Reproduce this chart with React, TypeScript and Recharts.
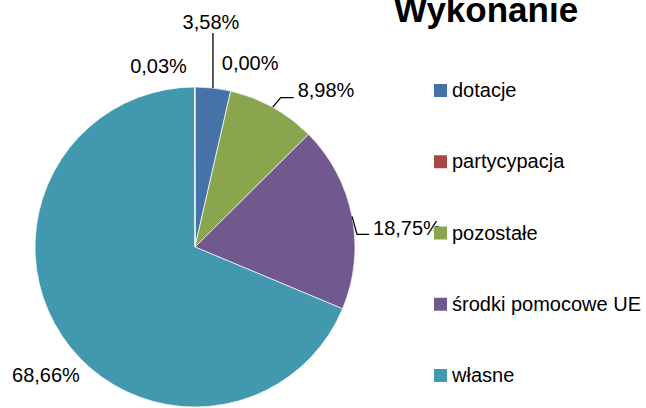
import React from 'react';
import { PieChart, Pie, Cell, Legend } from 'recharts';

const categories = ['dotacje', 'partycypacja', 'pozostałe', 'środki pomocowe UE', 'własne', 'inne'];
const shares = [3.58, 0.0, 8.98, 18.75, 68.66, 0.03];
const legendCategories = ['dotacje', 'partycypacja', 'pozostałe', 'środki pomocowe UE', 'własne'];
const title = 'Wykonanie';

const colors = ['#4572A7', '#AA4643', '#89A54E', '#71588F', '#4198AF', '#DB843D'];

const data = categories.map((name, i) => ({ name, value: shares[i] }));

const FONT = '"Liberation Sans", Arial, sans-serif';
const RAD = Math.PI / 180;

// label placement relative to the slice's outer arc point (layout only)
const labelLayout = [
  { dx: -2, dy: -59, anchor: 'middle', leader: [[0, 0], [0, -55]] },
  { dx: 19.5, dy: -21, anchor: 'middle', leader: null },
  { dx: 25, dy: -10, anchor: 'start', leader: [[0, 0], [8, -9.5], [21, -9.5]] },
  { dx: 21, dy: 18.5, anchor: 'start', leader: [[0, 0], [5, 18], [17, 18]] },
  { dx: 18, dy: 46, anchor: 'end', leader: null },
  { dx: -8, dy: -14, anchor: 'end', leader: null },
];

const fmt = (v: number) => v.toFixed(2).replace('.', ',') + '%';

const renderLabel = (props: any) => {
  const { cx, cy, midAngle, outerRadius, index, value } = props;
  const px = cx + outerRadius * Math.cos(-midAngle * RAD);
  const py = cy + outerRadius * Math.sin(-midAngle * RAD);
  const L = labelLayout[index];
  return (
    <g key={`lbl-${index}`}>
      {L.leader && (
        <polyline
          points={L.leader.map((p) => `${px + p[0]},${py + p[1]}`).join(' ')}
          fill="none"
          stroke="#000"
          strokeWidth={1.3}
        />
      )}
      <text
        x={px + L.dx}
        y={py + L.dy}
        textAnchor={L.anchor as any}
        fill="#000"
        fontSize={20}
        fontFamily={FONT}
      >
        {fmt(value)}
      </text>
    </g>
  );
};

const renderLegend = () => (
  <div style={{ position: 'absolute', left: 0, top: 0, width: 646, height: 408 }}>
    <svg width={646} height={408} style={{ position: 'absolute', left: 0, top: 0 }}>
      {legendCategories.map((name, i) => {
        const base = 97 + i * 71.25;
        const ci = categories.indexOf(name);
        return (
          <g key={name}>
            <rect x={434} y={base - 13} width={13} height={13} fill={colors[ci]} />
            <text x={452} y={base} fontSize={20} fontFamily={FONT} fill="#000">
              {name}
            </text>
          </g>
        );
      })}
    </svg>
  </div>
);

export default function App() {
  return (
    <div style={{ position: 'absolute', left: 0, top: 0, width: 646, height: 408, background: '#fff', overflow: 'hidden' }}>
      <PieChart width={646} height={408} margin={{ top: 0, right: 0, bottom: 0, left: 0 }}>
        <Pie
          data={data}
          dataKey="value"
          nameKey="name"
          cx={195}
          cy={247}
          outerRadius={160}
          startAngle={90}
          endAngle={-270}
          stroke="#ffffff"
          strokeWidth={0.7}
          label={renderLabel}
          labelLine={false}
          isAnimationActive={false}
        >
          {data.map((d, i) => (
            <Cell key={d.name} fill={colors[i]} />
          ))}
        </Pie>
        <Legend content={renderLegend} wrapperStyle={{ position: 'absolute', left: 0, top: 0, width: 646, height: 408 }} />
      </PieChart>
      <svg width={646} height={408} style={{ position: 'absolute', left: 0, top: 0, pointerEvents: 'none' }}>
        <text x={394} y={22} fontSize={35} fontWeight="bold" fontFamily={FONT} fill="#000">
          {title}
        </text>
      </svg>
    </div>
  );
}
